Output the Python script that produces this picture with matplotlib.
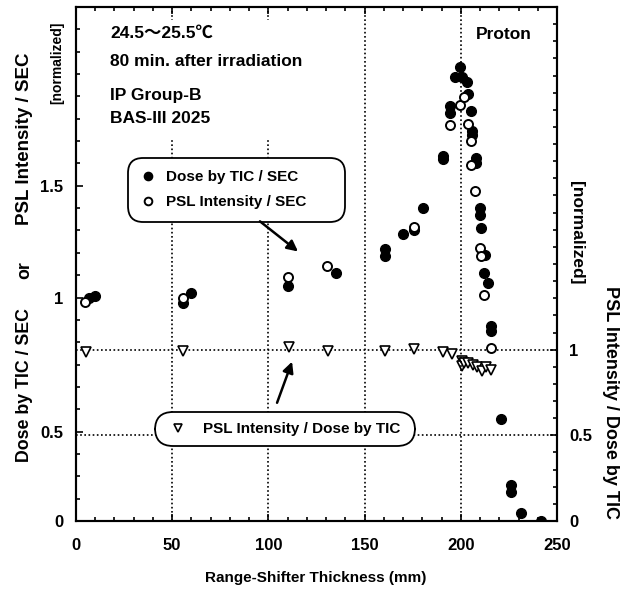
import numpy as np
import matplotlib
matplotlib.use("Agg")
import matplotlib.pyplot as plt
from matplotlib.ticker import MultipleLocator, FixedLocator, FixedFormatter
from matplotlib.patches import Rectangle

plt.rcParams['font.family'] = ['Liberation Sans', 'Noto Sans CJK JP', 'DejaVu Sans']
plt.rcParams['font.weight'] = 'bold'

# Dose by TIC / SEC (filled circles, left axis)
dose_x = [7, 10, 55.5, 60, 110, 135, 160.5, 160.5, 170, 175.5, 180.5, 190.5, 190.5,
          194.5, 194.5, 197, 199.6, 200.5, 203, 203.5, 205.5, 205.7, 205.7, 207.7, 207.7,
          210, 210, 210.5, 212.6, 212.3, 214.3, 215.7, 215.7, 221, 226, 226, 231.5, 241.5]
dose_y = [1.00, 1.005, 0.975, 1.02, 1.05, 1.11, 1.215, 1.185, 1.283, 1.30, 1.40, 1.635, 1.62,
          1.858, 1.825, 1.985, 2.03, 1.985, 1.963, 1.91, 1.835, 1.745, 1.725, 1.626, 1.60,
          1.402, 1.37, 1.312, 1.19, 1.11, 1.063, 0.871, 0.849, 0.456, 0.161, 0.131, 0.037, 0.0]

# PSL Intensity / SEC (open circles, left axis)
psl_x = [4.7, 55.5, 110.2, 130.3, 175.7, 194.6, 199.8, 201.5, 203.5, 205.1, 205.2,
         207.5, 210, 210.3, 212, 215.5]
psl_y = [0.98, 1.0, 1.094, 1.14, 1.315, 1.772, 1.862, 1.897, 1.776, 1.70, 1.592,
         1.477, 1.223, 1.186, 1.013, 0.773]

# PSL Intensity / Dose by TIC (open triangles, right axis)
ratio_x = [5.2, 55.5, 110.9, 131, 160.6, 175.8, 190.6, 195.3, 200.5, 200.5, 201.7,
           203.9, 206.2, 208.3, 210.9, 213, 215.6]
ratio_y = [0.984, 0.994, 1.013, 0.994, 0.994, 1.004, 0.988, 0.972, 0.935, 0.905, 0.925,
           0.92, 0.911, 0.901, 0.877, 0.90, 0.881]

left_ticks = [0, 0.4, 1, 1.5]
left_labels = ['0', '0.5', '1', '1.5']
right_ticks = [0, 0.5, 1]

fig = plt.figure(figsize=(6.22, 5.95), dpi=100)
ax = fig.add_axes([76/622, 74/595, 481/622, 514/595])
ax2 = ax.twinx()
ax.set_zorder(ax2.get_zorder() + 1)
ax.patch.set_visible(False)

ax.set_xlim(0, 250)
ax.set_ylim(0, 2.3)
ax2.set_ylim(0, 3.0)

ax.xaxis.set_major_locator(MultipleLocator(50))
ax.xaxis.set_minor_locator(MultipleLocator(10))
ax.yaxis.set_major_locator(FixedLocator(left_ticks))
ax.yaxis.set_major_formatter(FixedFormatter(left_labels))
ax.yaxis.set_minor_locator(MultipleLocator(0.1))
ax2.yaxis.set_major_locator(FixedLocator(right_ticks))
ax2.yaxis.set_major_formatter(FixedFormatter(['0', '0.5', '1']))
ax2.yaxis.set_minor_locator(MultipleLocator(0.1))

for a in (ax, ax2):
    for s in a.spines.values():
        s.set_linewidth(1.5)
ax.tick_params(which='both', direction='in', top=True, width=1.2, labelsize=12)
ax.tick_params(which='major', length=5)
ax.tick_params(which='minor', length=3)
ax.tick_params(axis='x', pad=12)
ax.tick_params(axis='y', pad=9)
ax2.tick_params(which='both', direction='in', width=1.2, labelsize=12, pad=9)
ax2.tick_params(which='major', length=5)
ax2.tick_params(which='minor', length=3)

dots = (0, (1, 1.5))
ax.grid(axis='x', which='major', color='k', lw=1.2, ls=dots)
ax.set_axisbelow(True)
ax2.grid(axis='y', which='major', color='k', lw=1.2, ls=dots)

h_dose, = ax.plot(dose_x, dose_y, 'o', color='k', ms=7, zorder=3, label='Dose by TIC / SEC')
h_psl, = ax.plot(psl_x, psl_y, 'o', mfc='white', mec='k', mew=1.4, ms=6.5, zorder=4,
                 label='PSL Intensity / SEC')
h_ratio, = ax2.plot(ratio_x, ratio_y, 'v', mfc='white', mec='k', mew=1.2, ms=6.5, zorder=3,
                    label='PSL Intensity / Dose by TIC')

# white block behind the conditions text
ax.add_patch(Rectangle((0.06, 0.745), 0.43, 0.23, transform=ax.transAxes,
                       fc='white', ec='none', zorder=2))
ax.text(0.0707, 0.949, '24.5～25.5℃', transform=ax.transAxes, fontsize=12.5, va='center', zorder=3)
ax.text(0.0707, 0.893, '80 min. after irradiation', transform=ax.transAxes, fontsize=12.5,
        va='center', zorder=3)
ax.text(0.0707, 0.827, 'IP Group-B', transform=ax.transAxes, fontsize=12.5, va='center', zorder=3)
ax.text(0.0707, 0.784, 'BAS-III 2025', transform=ax.transAxes, fontsize=12.5, va='center', zorder=3)
ax.text(0.89, 0.947, 'Proton', transform=ax.transAxes, fontsize=12.5, ha='center', va='center')

leg1 = ax.legend(handles=[h_dose, h_psl], loc='upper left',
                 bbox_to_anchor=(0.108, 0.506, 217/481, 0.2), mode='expand',
                 fontsize=11, handlelength=1.0, handletextpad=0.72, borderpad=0.8,
                 labelspacing=0.72, borderaxespad=0, markerscale=0.85,
                 fancybox=True, framealpha=1, edgecolor='k')
leg1.get_frame().set_boxstyle('round', pad=0, rounding_size=1.0)
leg1.get_frame().set_linewidth(1.3)
ax.add_artist(leg1)

leg2 = ax.legend(handles=[h_ratio], loc='upper left',
                 bbox_to_anchor=(0.164, 0.012, 260/481, 0.2), mode='expand',
                 fontsize=11, handlelength=1.7, handletextpad=0.78, borderpad=0.65,
                 borderaxespad=0, markerscale=0.85,
                 fancybox=True, framealpha=1, edgecolor='k')
leg2.get_frame().set_boxstyle('round', pad=0, rounding_size=1.2)
leg2.get_frame().set_linewidth(1.3)

ax.annotate('', xy=(115.4, 1.206), xytext=(95.6, 1.341),
            arrowprops=dict(arrowstyle='-|>', color='k', lw=1.8, mutation_scale=16,
                            shrinkA=0, shrinkB=0), zorder=5)
ax.annotate('', xy=(112.3, 0.713), xytext=(104.5, 0.529),
            arrowprops=dict(arrowstyle='-|>', color='k', lw=1.8, mutation_scale=16,
                            shrinkA=0, shrinkB=0), zorder=5)

fig.text(316/622, 1 - 578/595, 'Range-Shifter Thickness (mm)', fontsize=11,
         ha='center', va='center')
fig.text(25/622, 1 - 385/595, 'Dose by TIC / SEC', fontsize=12.8, rotation=90,
         ha='center', va='center')
fig.text(25/622, 1 - 270/595, 'or', fontsize=12.8, rotation=90, ha='center', va='center')
fig.text(25/622, 1 - 139/595, 'PSL Intensity / SEC', fontsize=13.5, rotation=90,
         ha='center', va='center')
fig.text(57/622, 1 - 63/595, '[normalized]', fontsize=10, rotation=90,
         ha='center', va='center')
fig.text(577/622, 1 - 233/595, '[normalized]', fontsize=12.5, rotation=270,
         ha='center', va='center')
fig.text(610/622, 1 - 402/595, 'PSL Intensity / Dose by TIC', fontsize=13, rotation=270,
         ha='center', va='center')

fig.savefig('out.png', dpi=100)
